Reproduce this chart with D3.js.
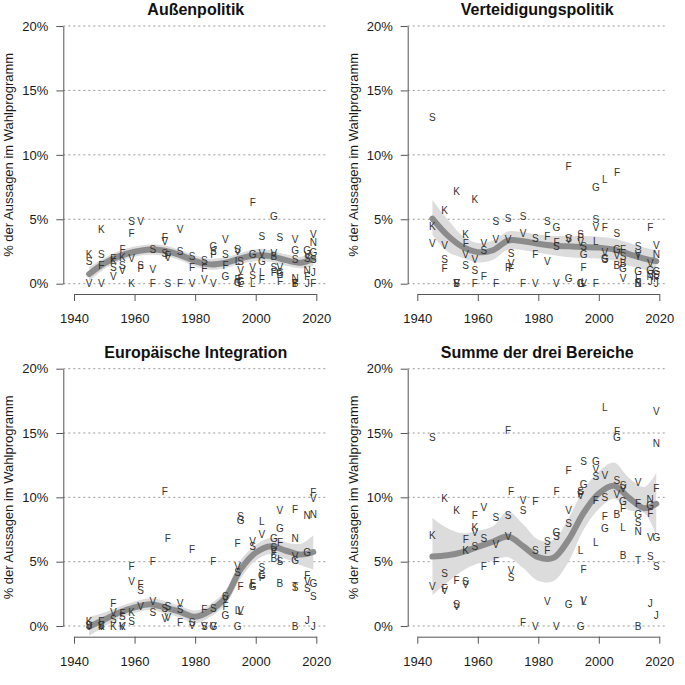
<!DOCTYPE html>
<html><head><meta charset="utf-8">
<script src="https://cdn.jsdelivr.net/npm/d3@7"></script>
<style>body{margin:0;background:#fff} svg{display:block}</style>
</head><body>
<svg id="c" width="685" height="685"></svg>
<script>
// ---------- DATA ----------
const panelTitles = ["Außenpolitik", "Verteidigungspolitik", "Europäische Integration", "Summe der drei Bereiche"];
const yAxisTitle = "% der Aussagen im Wahlprogramm";
const xTicks = [1940, 1960, 1980, 2000, 2020];
const yTicks = [0, 5, 10, 15, 20];

// [party letter, election year, % of statements]
const aussenPoints = [
 ["K",1945,2.3],["S",1945,1.75],["V",1945,0],
 ["K",1949,4.2],["S",1949,2.25],["F",1949,1.45],["V",1949,0],
 ["F",1953,1.95],["K",1953,1.8],["S",1953,1.3],["V",1953,0.6],
 ["F",1956,2.7],["K",1956,2.05],["S",1956,1.4],["V",1956,1.05],
 ["S",1959,4.8],["F",1959,3.9],["V",1959,2.0],["K",1959,0],
 ["V",1962,4.8],["S",1962,1.4],["F",1962,1.15],
 ["S",1966,2.65],["V",1966,1.1],["F",1966,0],
 ["F",1970,3.6],["V",1970,3.3],["S",1970,2.35],
 ["F",1971,2.2],["V",1971,2.05],["S",1971,0],
 ["V",1975,4.2],["S",1975,2.5],["F",1975,0],
 ["S",1979,2.15],["F",1979,1.3],["V",1979,0],
 ["S",1983,1.8],["F",1983,1.2],["V",1983,0.35],
 ["G",1986,2.9],["S",1986,2.5],["F",1986,2.25],["V",1986,0],
 ["V",1990,3.4],["S",1990,2.25],["F",1990,1.45],["G",1990,0.55],
 ["S",1994,2.65],["V",1994,2.5],["L",1994,1.7],["F",1994,0.3],["G",1994,0.1],
 ["S",1995,1.7],["V",1995,1.0],["F",1995,0.45],["G",1995,0.2],["L",1995,0],
 ["F",1999,6.3],["G",1999,2.3],["V",1999,1.3],["S",1999,0.65],["L",1999,0],
 ["S",2002,3.7],["V",2002,2.35],["G",2002,1.75],["L",2002,0.85],["F",2002,0.35],
 ["G",2006,5.25],["V",2006,2.35],["B",2006,2.15],["S",2006,1.3],["F",2006,0.85],
 ["S",2008,3.6],["V",2008,1.3],["G",2008,0.85],["B",2008,0.75],["F",2008,0.2],
 ["V",2013,3.4],["G",2013,2.6],["S",2013,1.85],["N",2013,0.45],["T",2013,0],["B",2013,0.05],["F",2013,0],
 ["G",2017,2.6],["V",2017,2.2],["S",2017,2.0],["N",2017,1.0],["F",2017,0.6],["J",2017,0],
 ["V",2019,3.85],["N",2019,3.2],["G",2019,2.45],["S",2019,1.9],["J",2019,0.9],["F",2019,0]
];
const verteidigungPoints = [
 ["S",1945,12.9],["K",1945,4.45],["V",1945,3.15],
 ["K",1949,5.7],["V",1949,3.0],["S",1949,1.85],["F",1949,1.15],
 ["K",1953,7.2],["S",1953,0],["F",1953,0],["V",1953,0],
 ["K",1956,3.8],["F",1956,3.15],["V",1956,2.3],["S",1956,1.4],
 ["K",1959,6.55],["V",1959,1.9],["S",1959,1.05],["F",1959,0],
 ["V",1962,3.1],["S",1962,2.6],["F",1962,0.55],
 ["S",1966,4.8],["V",1966,3.4],["F",1966,0],
 ["S",1970,5.07],["V",1970,3.4],["F",1970,1.3],
 ["S",1971,2.35],["V",1971,1.6],["F",1971,1.2],
 ["S",1975,5.2],["V",1975,3.9],["F",1975,0],
 ["S",1979,3.5],["F",1979,2.3],["V",1979,0],
 ["S",1983,4.8],["F",1983,3.65],["V",1983,1.7],
 ["G",1986,4.35],["F",1986,3.2],["S",1986,2.9],["V",1986,0],
 ["F",1990,9.07],["S",1990,3.55],["V",1990,3.45],["G",1990,0.4],
 ["S",1994,3.8],["F",1994,3.6],["V",1994,3.2],["G",1994,0],["L",1994,0],
 ["S",1995,2.9],["G",1995,2.3],["F",1995,1.25],["V",1995,0],["L",1995,0.1],
 ["G",1999,7.45],["S",1999,5.0],["V",1999,4.4],["L",1999,3.25],["F",1999,0],
 ["L",2002,8.1],["F",2002,4.35],["V",2002,2.4],["G",2002,2.0],["S",2002,1.85],
 ["F",2006,8.6],["S",2006,3.9],["G",2006,2.7],["V",2006,2.2],["B",2006,1.4],
 ["F",2008,2.7],["S",2008,2.15],["B",2008,1.6],["G",2008,1.2],["V",2008,0.45],
 ["S",2013,2.87],["V",2013,2.3],["T",2013,2.1],["G",2013,0.95],["F",2013,0.4],["N",2013,0],["B",2013,0],
 ["F",2017,4.4],["V",2017,1.55],["G",2017,1.0],["S",2017,0.75],["N",2017,0.6],["J",2017,0.2],
 ["V",2019,2.95],["N",2019,2.3],["G",2019,0.95],["S",2019,0.7],["F",2019,0.4],["J",2019,0]
];
const europaPoints = [
 ["K",1945,0.34],["S",1945,0.08],["V",1945,0],
 ["F",1949,0.34],["S",1949,0.05],["V",1949,0],["K",1949,0],
 ["F",1953,1.76],["V",1953,1.08],["S",1953,0.55],["K",1953,0],
 ["F",1956,1.0],["S",1956,0.72],["V",1956,0],["K",1956,0],
 ["F",1959,4.6],["V",1959,3.44],["K",1959,1.03],["S",1959,0.33],
 ["F",1962,3.2],["S",1962,2.8],["V",1962,1.55],
 ["F",1966,5.0],["V",1966,1.9],["S",1966,1.03],
 ["F",1970,10.5],["S",1970,1.37],["V",1970,0.6],
 ["F",1971,6.8],["S",1971,1.5],["V",1971,0.7],
 ["V",1975,1.76],["S",1975,1.3],["F",1975,0.26],
 ["F",1979,5.96],["S",1979,0.26],["V",1979,0.05],
 ["F",1983,1.3],["S",1983,0],["V",1983,0],
 ["F",1986,5.0],["S",1986,1.37],["V",1986,0],["G",1986,0],
 ["S",1990,2.3],["V",1990,2.1],["F",1990,1.5],["G",1990,0.8],
 ["F",1994,6.45],["V",1994,4.6],["S",1994,4.2],["L",1994,1.2],["G",1994,0],
 ["S",1995,8.5],["G",1995,8.2],["F",1995,3.1],["V",1995,1.2],["L",1995,1.1],
 ["V",1999,6.55],["S",1999,6.2],["F",1999,3.35],["L",1999,3.2],["G",1999,3.05],
 ["L",2002,8.1],["V",2002,7.15],["S",2002,4.55],["G",2002,3.9],["F",2002,3.8],
 ["G",2006,6.8],["S",2006,6.1],["V",2006,5.85],["F",2006,5.7],["B",2006,5.26],
 ["V",2008,9.0],["G",2008,7.6],["F",2008,6.5],["L",2008,5.2],["S",2008,5.0],["B",2008,3.3],
 ["F",2013,9.07],["N",2013,6.8],["V",2013,5.44],["G",2013,5.08],["T",2013,3.05],["S",2013,3.0],["B",2013,0],
 ["N",2017,8.63],["G",2017,5.75],["F",2017,3.95],["V",2017,3.5],["S",2017,2.9],["J",2017,0.45],
 ["F",2019,10.35],["V",2019,9.9],["N",2019,8.7],["G",2019,3.35],["S",2019,2.3],["J",2019,0]
];
const summePoints = [
 ["S",1945,14.65],["K",1945,7.05],["V",1945,3.1],
 ["K",1949,9.9],["S",1949,4.1],["F",1949,2.95],["V",1949,2.8],
 ["K",1953,8.95],["F",1953,3.55],["S",1953,1.65],["V",1953,1.55],
 ["F",1956,6.7],["K",1956,5.85],["S",1956,3.5],["V",1956,3.25],
 ["F",1959,8.6],["K",1959,7.65],["V",1959,7.25],["S",1959,6.15],
 ["V",1962,9.25],["S",1962,6.8],["F",1962,4.65],
 ["S",1966,8.45],["V",1966,6.35],["F",1966,5.0],
 ["F",1970,15.2],["S",1970,8.6],["V",1970,7.0],
 ["F",1971,10.45],["V",1971,4.35],["S",1971,3.8],
 ["V",1975,9.8],["S",1975,8.95],["F",1975,0.25],
 ["F",1979,9.65],["S",1979,5.85],["V",1979,0],
 ["S",1983,6.55],["F",1983,5.85],["V",1983,1.95],
 ["F",1986,10.45],["G",1986,7.25],["S",1986,6.95],["V",1986,0],
 ["F",1990,12.1],["V",1990,8.95],["S",1990,8.0],["G",1990,1.65],
 ["S",1994,10.5],["F",1994,10.3],["V",1994,10.15],["L",1994,5.9],["G",1994,0],
 ["S",1995,12.8],["G",1995,11.0],["F",1995,4.4],["V",1995,2.0],["L",1995,1.9],
 ["G",1999,12.8],["V",1999,12.2],["S",1999,11.65],["F",1999,9.8],["L",1999,6.5],
 ["L",2002,17.0],["V",2002,11.7],["S",2002,10.0],["F",2002,8.55],["G",2002,7.6],
 ["F",2006,15.1],["G",2006,14.65],["S",2006,11.3],["V",2006,10.25],["B",2006,8.7],
 ["S",2008,10.9],["V",2008,10.7],["G",2008,9.65],["F",2008,9.15],["L",2008,7.7],["B",2008,5.5],
 ["V",2013,11.2],["F",2013,9.5],["G",2013,8.65],["S",2013,8.05],["N",2013,7.35],["T",2013,5.1],["B",2013,0],
 ["N",2017,9.85],["G",2017,9.4],["F",2017,8.75],["V",2017,6.9],["S",2017,5.4],["J",2017,1.75],
 ["V",2019,16.65],["N",2019,14.2],["F",2019,10.7],["G",2019,6.9],["S",2019,4.65],["J",2019,0.85]
];

// smoothed trend with confidence band
const smoothYears = [1945,1950,1955,1960,1965,1970,1975,1980,1985,1990,1995,2000,2005,2010,2015,2019];
const aussenFit = [0.75,1.58,2.14,2.48,2.66,2.56,2.22,1.76,1.5,1.63,1.96,2.2,2.14,1.83,1.63,1.96];
const aussenLo  = [0.2,1.15,1.75,2.1,2.25,2.15,1.82,1.35,1.08,1.22,1.55,1.75,1.7,1.4,1.2,1.4];
const aussenHi  = [1.3,2.0,2.55,2.88,3.05,2.97,2.62,2.18,1.94,2.05,2.38,2.68,2.6,2.28,2.1,2.55];
const vertFit = [5.05,3.75,2.85,2.45,2.6,3.35,3.3,3.1,2.95,2.9,2.85,2.8,2.65,2.3,1.95,1.75];
const vertLo  = [3.8,2.5,2.0,1.65,1.85,2.65,2.6,2.4,2.2,2.05,2.0,1.95,1.8,1.4,1.1,0.9];
const vertHi  = [6.5,5.0,3.7,3.15,3.35,4.05,4.0,3.8,3.7,3.7,3.7,3.65,3.5,3.15,2.8,2.6];
const europaFit = [-0.05,0.5,1.05,1.45,1.7,1.45,1.1,0.72,1.2,2.2,4.4,5.7,6.2,5.85,5.55,5.75];
const europaLo  = [-0.75,-0.05,0.6,1.0,1.25,1.0,0.65,0.2,0.7,1.65,3.7,5.1,5.6,5.2,4.7,4.4];
const europaHi  = [0.7,1.05,1.5,1.9,2.15,1.95,1.55,1.2,1.7,2.75,5.1,6.3,6.85,6.5,6.4,7.05];
const summeFit = [5.4,5.5,5.75,6.15,6.55,6.95,6.2,5.35,5.3,6.7,8.8,10.3,10.9,9.95,9.15,9.5];
const summeLo  = [2.4,3.4,4.3,4.85,5.1,5.35,4.5,3.5,3.5,5.0,7.5,9.1,9.9,9.0,8.8,7.0];
const summeHi  = [8.4,7.6,7.2,7.4,7.75,8.9,7.9,6.7,6.7,8.4,10.6,12.0,12.7,11.5,10.8,11.9];

// ---------- LAYOUT ----------
const panels = [
 {title: panelTitles[0], pts: aussenPoints, fit: aussenFit, lo: aussenLo, hi: aussenHi,
  left: 63.3, x0: 74, x1: 316.3, gridEnd: 328.3, yTop: 26, yBot: 283.7, axisY: 294},
 {title: panelTitles[1], pts: verteidigungPoints, fit: vertFit, lo: vertLo, hi: vertHi,
  left: 407.7, x0: 417.3, x1: 659.3, gridEnd: 666.7, yTop: 26, yBot: 283.7, axisY: 294},
 {title: panelTitles[2], pts: europaPoints, fit: europaFit, lo: europaLo, hi: europaHi,
  left: 63.3, x0: 74, x1: 316.3, gridEnd: 328.3, yTop: 368.7, yBot: 626, axisY: 636.7},
 {title: panelTitles[3], pts: summePoints, fit: summeFit, lo: summeLo, hi: summeHi,
  left: 407.7, x0: 417.3, x1: 659.3, gridEnd: 666.7, yTop: 368.7, yBot: 626, axisY: 636.7}
];

const FONT = "'Liberation Sans', Arial, Helvetica, sans-serif";
const svg = d3.select("#c");

panels.forEach(p => {
  const g = svg.append("g");
  const x = d3.scaleLinear().domain([1940, 2020]).range([p.x0, p.x1]);
  const y = d3.scaleLinear().domain([0, 20]).range([p.yBot, p.yTop]);

  // gridlines
  g.append("g").selectAll("line").data(yTicks).join("line")
    .attr("x1", p.left).attr("x2", p.gridEnd)
    .attr("y1", d => y(d)).attr("y2", d => y(d))
    .attr("stroke", "#9a9a9a").attr("stroke-width", 1)
    .attr("stroke-dasharray", "2,3");

  // confidence band
  const band = smoothYears.map((yr, i) => ({yr, lo: p.lo[i], hi: p.hi[i], fit: p.fit[i]}));
  g.append("path").datum(band)
    .attr("d", d3.area().x(d => x(d.yr)).y0(d => y(d.lo)).y1(d => y(d.hi)).curve(d3.curveCatmullRom.alpha(0.5)))
    .attr("fill", "#dcdcdc");
  // fit line
  g.append("path").datum(band)
    .attr("d", d3.line().x(d => x(d.yr)).y(d => y(d.fit)).curve(d3.curveCatmullRom.alpha(0.5)))
    .attr("fill", "none").attr("stroke", "#8c8c8c").attr("stroke-width", 6)
    .attr("stroke-linecap", "round");

  // party letters
  g.append("g").selectAll("text").data(p.pts).join("text")
    .attr("x", d => x(d[1])).attr("y", d => y(d[2]))
    .attr("text-anchor", "middle").attr("dy", "0.36em")
    .attr("font-family", FONT).attr("font-size", 10).attr("fill", "#333")
    .text(d => d[0]);

  // axes
  const xa = g.append("g").attr("transform", `translate(0,${p.axisY})`)
    .call(d3.axisBottom(x).tickValues(xTicks).tickSize(7).tickSizeOuter(0).tickPadding(13).tickFormat(d3.format("d")));
  const ya = g.append("g").attr("transform", `translate(${p.left},0)`)
    .call(d3.axisLeft(y).tickValues(yTicks).tickSize(7).tickSizeOuter(0).tickPadding(8).tickFormat(d => d + "%"));
  [xa, ya].forEach(a => {
    a.selectAll("path, line").attr("stroke", "#555");
    a.selectAll("text").attr("font-family", FONT).attr("font-size", 13).attr("fill", "#1a1a1a");
  });

  // title
  g.append("text").attr("x", (p.left + p.gridEnd) / 2).attr("y", p.yTop - 11)
    .attr("text-anchor", "middle").attr("font-family", FONT).attr("font-weight", "bold")
    .attr("font-size", 16).attr("fill", "#111").text(p.title);

  // y axis title
  const cy = (p.yTop + p.yBot) / 2;
  g.append("text").attr("transform", `translate(${p.left - 50},${cy}) rotate(-90)`)
    .attr("text-anchor", "middle").attr("font-family", FONT).attr("font-size", 13)
    .attr("fill", "#1a1a1a").text(yAxisTitle);
});
</script>
</body></html>
